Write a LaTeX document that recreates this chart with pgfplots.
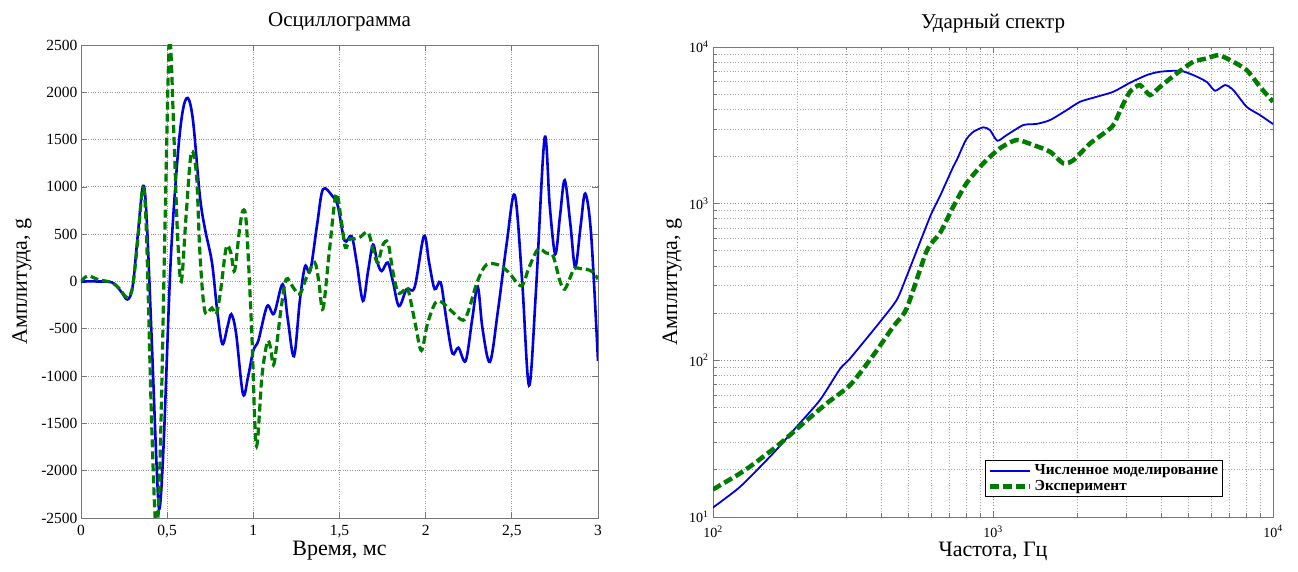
\documentclass[border=0pt]{standalone}
\usepackage{fontspec}
\setmainfont{Liberation Serif}
\usepackage{pgfplots}
\pgfplotsset{compat=1.18}
\definecolor{mblue}{RGB}{0,0,225}
\definecolor{mgreen}{RGB}{0,125,0}
\definecolor{axgray}{RGB}{120,120,120}

\pgfplotsset{
  mystyle/.style={
    scale only axis,
    axis line style={axgray, line width=0.9pt},
    tick style={axgray, line width=0.7pt},
    major tick length=6pt, minor tick length=3.5pt,
    tick align=inside,
    grid style={dotted, line width=0.8pt, black!40},
    tick label style={font=\fontsize{15.5}{17}\selectfont},
    label style={font=\fontsize{22}{26}\selectfont},
    title style={font=\fontsize{21}{25}\selectfont},
    /pgf/number format/assume math mode=true,
  }
}

\begin{document}
\begin{tikzpicture}
\useasboundingbox (0pt,0pt) rectangle (1298pt,572pt);

% ---------------- Left: oscillogram ----------------
\begin{axis}[mystyle,
  at={(81pt,54pt)}, anchor=south west,
  width=517pt, height=473pt,
  xmin=0, xmax=3, ymin=-2500, ymax=2500,
  xtick={0,0.5,1,1.5,2,2.5,3},
  ytick={-2500,-2000,-1500,-1000,-500,0,500,1000,1500,2000,2500},
  grid=major,
  xticklabel style={yshift=-4pt},
  /pgf/number format/.cd, use comma, 1000 sep={}, /pgfplots/.cd,
  title={Осциллограмма},
  title style={at={(axis description cs:0.5,1.037)}, anchor=center},
  xlabel={Время, мс},
  xlabel style={at={(axis description cs:0.5,-0.070)}, anchor=center},
  ylabel={Амплитуда, g},
  ylabel style={at={(axis description cs:-0.114,0.5)}, anchor=center},
]
\addplot[mblue, line width=2.6pt, smooth, tension=0.55] coordinates {
(0,0) (0.10,0) (0.18,-10) (0.23,-100) (0.27,-190) (0.30,-50) (0.33,500) (0.36,1010)
(0.38,700) (0.41,-600) (0.44,-2000) (0.456,-2400) (0.48,-1700) (0.52,200) (0.56,1300)
(0.59,1800) (0.62,1940) (0.65,1700) (0.69,900) (0.72,550) (0.76,200) (0.79,-300)
(0.82,-660) (0.85,-480) (0.872,-345) (0.90,-550) (0.94,-1190) (0.97,-1000) (1.00,-730)
(1.03,-620) (1.08,-260) (1.12,-340) (1.17,-30) (1.20,-400) (1.236,-790) (1.27,-200)
(1.30,160) (1.33,110) (1.37,600) (1.404,975) (1.46,900) (1.49,800) (1.53,430) (1.57,480)
(1.60,200) (1.636,-205) (1.665,100) (1.694,390) (1.72,200) (1.745,110) (1.78,200)
(1.81,0) (1.845,-260) (1.89,-80) (1.936,-60) (1.99,480) (2.02,200) (2.052,-80)
(2.087,-10) (2.12,-400) (2.155,-760) (2.19,-700) (2.232,-840) (2.27,-400) (2.302,-55)
(2.33,-500) (2.373,-850) (2.42,-300) (2.47,400) (2.517,915) (2.56,0) (2.60,-1100)
(2.64,-100) (2.69,1514) (2.72,800) (2.752,290) (2.78,700) (2.807,1070) (2.84,600)
(2.868,150) (2.90,600) (2.926,930) (2.96,500) (3.0,-840)
};
\addplot[mgreen, line width=3.2pt, dash pattern=on 8pt off 4pt, smooth, tension=0.55] coordinates {
(0,0) (0.04,60) (0.10,20) (0.176,-10) (0.22,-70) (0.269,-170) (0.30,-50) (0.33,450)
(0.36,990) (0.38,500) (0.41,-1500) (0.437,-2650) (0.46,-1800) (0.49,800) (0.514,2550)
(0.54,1500) (0.56,500) (0.582,0) (0.61,700) (0.64,1360) (0.67,1130) (0.69,300)
(0.718,-310) (0.76,-280) (0.785,-345) (0.81,-100) (0.843,360) (0.87,300) (0.891,113)
(0.92,550) (0.94,750) (0.96,600) (0.99,-500) (1.017,-1735) (1.05,-1000) (1.081,-640)
(1.10,-700) (1.12,-870) (1.16,-300) (1.191,25) (1.23,-60) (1.269,-134) (1.31,50)
(1.356,200) (1.38,0) (1.404,-290) (1.44,300) (1.48,920) (1.51,650) (1.534,360)
(1.56,450) (1.588,450) (1.62,470) (1.666,517) (1.70,300) (1.723,200) (1.75,380)
(1.781,410) (1.81,100) (1.839,-116) (1.87,-100) (1.897,-80) (1.94,-450) (1.975,-730)
(2.01,-450) (2.052,-239) (2.083,-210) (2.12,-260) (2.16,-330) (2.218,-410) (2.25,-300)
(2.30,0) (2.352,176) (2.42,176) (2.48,100) (2.555,-46) (2.60,150) (2.652,341) (2.70,300)
(2.739,271) (2.78,0) (2.807,-81) (2.84,50) (2.864,141) (2.90,135) (2.932,130) (2.97,100)
(3.0,25)
};
\end{axis}

% ---------------- Right: shock spectrum ----------------
\begin{loglogaxis}[mystyle,
  at={(713pt,55pt)}, anchor=south west,
  width=560pt, height=470pt,
  xmin=100, xmax=10000, ymin=10, ymax=10000,
  log basis x=10, log basis y=10,
  grid=both,
  minor grid style={dotted, line width=0.7pt, black!35},
  major grid style={dotted, line width=0.8pt, black!45},
  xticklabel={10\textsuperscript{\pgfmathparse{int(round(\tick))}\pgfmathresult}},
  yticklabel={10\textsuperscript{\pgfmathparse{int(round(\tick))}\pgfmathresult}},
  tick label style={font=\fontsize{14}{16}\selectfont},
  xticklabel style={yshift=-5pt},
  yticklabel style={xshift=-1pt},
  title={Ударный спектр},
  title style={at={(axis description cs:0.5,1.037)}, anchor=center},
  xlabel={Частота, Гц},
  xlabel style={at={(axis description cs:0.5,-0.074)}, anchor=center},
  ylabel={Амплитуда, g},
  ylabel style={at={(axis description cs:-0.073,0.5)}, anchor=center},
  legend style={at={(rel axis cs:0.911,0.0426)}, anchor=south east,
    draw=black, line width=0.8pt, fill=white,
    font=\fontsize{15.3}{17}\selectfont\bfseries,
    row sep=0pt, inner sep=2.5pt},
  legend cell align=left,
  legend image code/.code={\draw[#1] (0pt,0pt) -- (40pt,0pt);},
]
\addplot[mblue, line width=1.8pt, smooth, tension=0.4] coordinates {
(100,11.5) (125,15.6) (164,25.5) (199,37.7) (241,55.8) (284,88) (309,103) (395,176)
(453,243) (492,345) (596,825) (647,1120) (721,1720) (742,1897) (800,2550) (851,2877)
(923,3070) (975,2951) (1036,2520) (1119,2740) (1283,3174) (1432,3230) (1598,3416)
(1833,3955) (2045,4470) (2345,4810) (2690,5180) (3085,5910) (3540,6617) (3950,6950)
(4655,7050) (5193,6617) (5795,5990) (6210,5254) (6740,5715) (7215,5309) (8050,4152)
(8987,3675) (10000,3222)
};
\addlegendentry{Численное моделирование}
\addplot[mgreen, line width=4.5pt, dash pattern=on 9pt off 4pt, smooth, tension=0.4] coordinates {
(100,15) (125,19) (143,22.5) (174,29.5) (210,39.6) (255,53.2) (309,69.6) (374,108)
(440,164) (492,215) (580,500) (647,650) (721,955) (804,1348) (923,1808) (1058,2254)
(1214,2548) (1393,2366) (1598,2145) (1784,1808) (1938,1897) (2224,2426) (2661,3096)
(2849,3955) (3085,5180) (3350,5715) (3635,4932) (3950,5570) (4530,6784) (5193,8050)
(5795,8450) (6380,8874) (7025,8250) (8050,7122) (8987,5570) (10000,4470)
};
\addlegendentry{Эксперимент}
\end{loglogaxis}
\end{tikzpicture}
\end{document}
